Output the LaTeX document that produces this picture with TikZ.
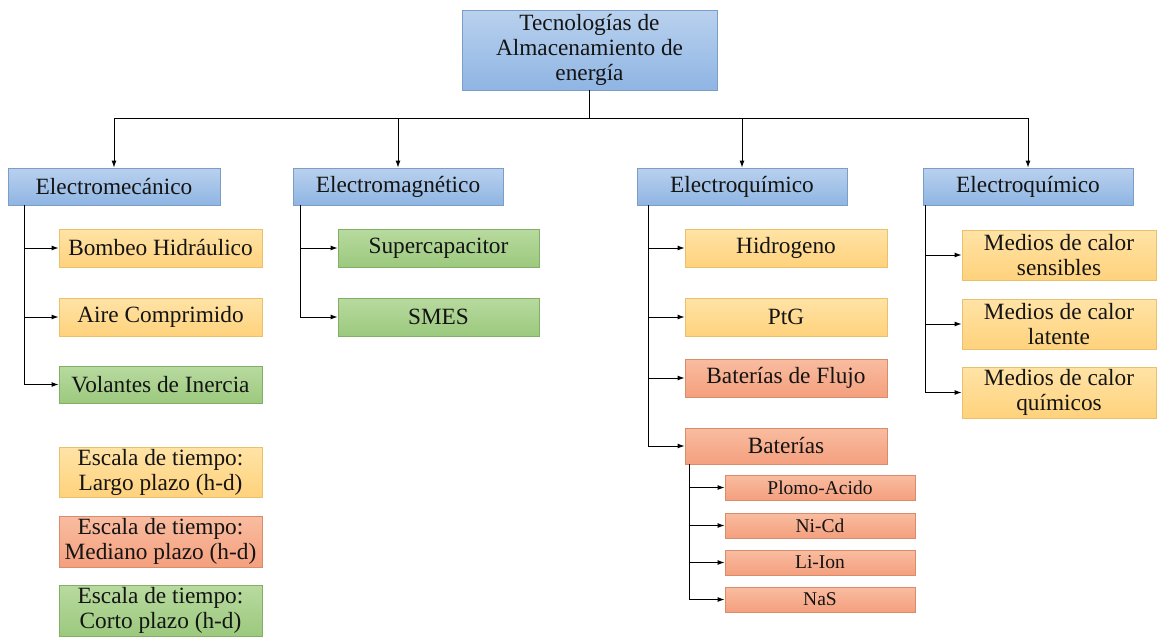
\documentclass[tikz,border=0pt]{standalone}
\usepackage{fontspec}
\setmainfont{Liberation Serif}
\usetikzlibrary{arrows.meta}

\definecolor{bluetop}{HTML}{B9D1EE}
\definecolor{bluebot}{HTML}{8FB5E3}
\definecolor{blueline}{HTML}{7C9DC8}
\definecolor{goldtop}{HTML}{FFE3A6}
\definecolor{goldbot}{HTML}{FFD27C}
\definecolor{goldline}{HTML}{EBC06A}
\definecolor{salmtop}{HTML}{F9BCA0}
\definecolor{salmbot}{HTML}{F4A07E}
\definecolor{salmline}{HTML}{D88C6C}
\definecolor{greentop}{HTML}{B8DA9F}
\definecolor{greenbot}{HTML}{9CC97E}
\definecolor{greenline}{HTML}{82AE66}
\definecolor{ink}{HTML}{141414}

\tikzset{
  box/.style={rectangle, draw, line width=0.8pt, inner sep=0pt, align=center,
    text=ink, font=\fontsize{23.3}{25}\selectfont},
  catbox/.style={box, top color=bluetop, bottom color=bluebot, draw=blueline},
  longbox/.style={box, top color=goldtop, bottom color=goldbot, draw=goldline},
  midbox/.style={box, top color=salmtop, bottom color=salmbot, draw=salmline},
  shortbox/.style={box, top color=greentop, bottom color=greenbot, draw=greenline},
  cellbox/.style={midbox, font=\fontsize{19.5}{22}\selectfont},
  arr/.style={line width=1pt, draw=black, -{Latex[length=7pt,width=5pt]}},
  link/.style={line width=1pt, draw=black},
}

\begin{document}
\begin{tikzpicture}[x=1pt, y=-1pt]
\useasboundingbox (0,0) rectangle (1157,637);

% root
\node[catbox, minimum width=255, minimum height=80] (root) at (589.5,50)
  {Tecnologías de\\Almacenamiento de\\energía};

% categories
\node[catbox, minimum width=212, minimum height=37] (e1) at (114,186.5) {Electromecánico};
\node[catbox, minimum width=210, minimum height=37] (e2) at (398,186.5) {Electromagnético};
\node[catbox, minimum width=210, minimum height=37] (e3) at (742,186.5) {Electroquímico};
\node[catbox, minimum width=210, minimum height=37] (e4) at (1028,186.5) {Electroquímico};

% electromechanical
\node[longbox, minimum width=203, minimum height=38] (m1) at (160.5,248) {Bombeo Hidráulico};
\node[longbox, minimum width=203, minimum height=38] (m2) at (160.5,317) {Aire Comprimido};
\node[shortbox, minimum width=203, minimum height=37] (m3) at (160.5,384.5) {Volantes de Inercia};

% time scale key
\node[longbox, minimum width=203, minimum height=50] (k1) at (160.5,472) {Escala de tiempo:\\Largo plazo (h-d)};
\node[midbox, minimum width=203, minimum height=51] (k2) at (160.5,541.5) {Escala de tiempo:\\Mediano plazo (h-d)};
\node[shortbox, minimum width=203, minimum height=51] (k3) at (160.5,610.5) {Escala de tiempo:\\Corto plazo (h-d)};

% electromagnetic
\node[shortbox, minimum width=201, minimum height=38] (g1) at (438.5,248) {Supercapacitor};
\node[shortbox, minimum width=201, minimum height=38] (g2) at (438.5,317) {SMES};

% electrochemical
\node[longbox, minimum width=202, minimum height=38] (q1) at (786,248) {Hidrogeno};
\node[longbox, minimum width=202, minimum height=38] (q2) at (786,317) {PtG};
\node[midbox, minimum width=202, minimum height=38] (q3) at (786,378) {Baterías de Flujo};
\node[midbox, minimum width=202, minimum height=36] (q4) at (786,446) {Baterías};

% battery types
\node[cellbox, minimum width=190, minimum height=25] (b1) at (820,487.5) {Plomo-Acido};
\node[cellbox, minimum width=190, minimum height=25] (b2) at (820,525.5) {Ni-Cd};
\node[cellbox, minimum width=190, minimum height=25] (b3) at (820,562.5) {Li-Ion};
\node[cellbox, minimum width=190, minimum height=25] (b4) at (820,599.5) {NaS};

% thermal
\node[longbox, minimum width=194, minimum height=50] (t1) at (1059,255) {Medios de calor\\sensibles};
\node[longbox, minimum width=194, minimum height=50] (t2) at (1059,324) {Medios de calor\\latente};
\node[longbox, minimum width=194, minimum height=51] (t3) at (1059,392.5) {Medios de calor\\químicos};

% root to categories
\draw[link] (root.south) -- ++(0,28) coordinate (hub);
\draw[link] (e1.north |- hub) -- (e4.north |- hub);
\foreach \c in {e1,e2,e3,e4}
  \draw[arr] (\c.north |- hub) -- (\c.north);

% category trunks
\foreach \c in {m1,m2,m3}
  \draw[arr] ([xshift=17pt]e1.south west) |- (\c.west);
\foreach \c in {g1,g2}
  \draw[arr] ([xshift=8pt]e2.south west) |- (\c.west);
\foreach \c in {q1,q2,q3,q4}
  \draw[arr] ([xshift=12pt]e3.south west) |- (\c.west);
\foreach \c in {b1,b2,b3,b4}
  \draw[arr] ([xshift=5pt]q4.south west) |- (\c.west);
\foreach \c in {t1,t2,t3}
  \draw[arr] ([xshift=3pt]e4.south west) |- (\c.west);
\end{tikzpicture}
\end{document}
